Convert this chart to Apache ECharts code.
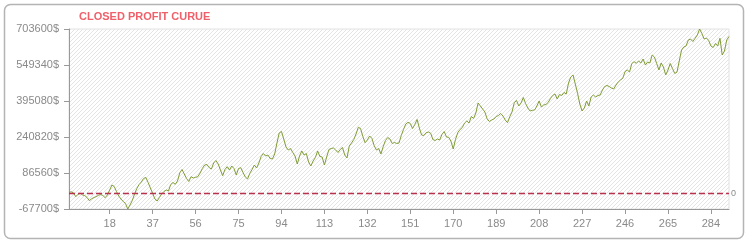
<!DOCTYPE html>
<html>
<head>
<meta charset="utf-8">
<script src="https://cdn.jsdelivr.net/npm/echarts@6/dist/echarts.min.js"></script>
<style>
  html, body { margin: 0; padding: 0; background: #fff; }
  #chart { width: 748px; height: 244px; }
</style>
</head>
<body>
<div id="chart"></div>
<script>
// Closed profit per trade number (index = trade number)
const profit = [
  3000, 6400, 900, -15000, -4700, -400, -7700, -10700, -18400, -32100,
  -24000, -18400, -15000, -9000, -5600, -9900, -19300, -7700, 13700, 35100,
  28700, 7300, -12000, -24900, -35600, -44100, -67700, -50600, -31300, -3400,
  20100, 37300, 48000, 63000, 67300, 45900, 22300, -400, -24900, -33400,
  -18400, -3400, 7300, 13700, 9400, 37300, 45900, 38100, 52300, 86600,
  101600, 82300, 63000, 50100, 70700, 65100, 68100, 70700, 86600, 105800,
  120800, 123000, 110100, 103700, 129400, 140100, 125100, 99400, 75000, 101600,
  113600, 99400, 116600, 105800, 78000, 105800, 109300, 88700, 69400, 60900,
  85300, 101600, 120800, 108000, 129400, 157300, 170100, 159400, 163700, 148700,
  146600, 168000, 215100, 258000, 264400, 232300, 198000, 185100, 191500, 174400,
  159400, 125100, 159400, 180800, 163700, 170100, 133700, 116600, 138000, 153000,
  180800, 157300, 155100, 120800, 155100, 187300, 191500, 193700, 185100, 174400,
  187300, 195800, 163700, 150800, 202300, 215100, 230100, 253700, 282400, 277200,
  243000, 216400, 228000, 245100, 235300, 204400, 185100, 191500, 168000, 199300,
  225800, 238700, 232300, 213000, 217300, 213000, 215100, 247300, 273000, 296500,
  303800, 298700, 277200, 294400, 315800, 279400, 249400, 247300, 259300, 262200,
  257100, 230100, 225800, 232300, 228000, 251500, 264400, 240800, 239500, 222400,
  189400, 231000, 259300, 273000, 281500, 300800, 309400, 300800, 328700, 320100,
  343700, 386500, 373700, 360800, 347900, 318000, 307200, 313700, 318000, 328700,
  332900, 341500, 330800, 313700, 302100, 327800, 347900, 387800, 397200, 373700,
  386500, 410100, 384400, 365100, 352200, 355200, 356500, 373700, 395100, 369400,
  377900, 380100, 388700, 405800, 418600, 425100, 403700, 422900, 418600, 431500,
  425100, 472200, 497900, 506500, 467900, 428100, 382200, 352200, 365100, 395100,
  373700, 412200, 420800, 412200, 418600, 420800, 442200, 457200, 461500, 457200,
  450800, 446500, 463600, 476500, 485100, 492400, 520600, 527900, 519300, 555800,
  563500, 556600, 566500, 557900, 575100, 549300, 562200, 557900, 592200, 583600,
  555800, 527900, 557900, 540800, 506500, 527900, 555800, 534300, 512900, 519300,
  566500, 613600, 626500, 630800, 656500, 660800, 650000, 663800, 677900, 703600,
  684300, 660800, 665000, 654300, 630800, 624300, 641500, 630800, 663800, 592200,
  609300, 656500, 671500
];
const categories = profit.map((_, i) => String(i));
const xTickLabels = ['18', '37', '56', '75', '94', '113', '132', '151', '170', '189', '208', '227', '246', '265', '284'];
const yTickLabels = [-67700, 86560, 240820, 395080, 549340, 703600];
const yMin = -67700;
const yMax = 703600;
const titleText = 'CLOSED PROFIT CURUE';
const zeroLevel = 0;

// diagonal hatch pattern for the plot background
const pat = document.createElement('canvas');
pat.width = 8; pat.height = 8;
const pctx = pat.getContext('2d');
pctx.fillStyle = '#ffffff';
pctx.fillRect(0, 0, 8, 8);
pctx.strokeStyle = '#e4e4e4';
pctx.lineWidth = 1;
for (let k = -8; k <= 8; k += 4) {
  pctx.beginPath();
  pctx.moveTo(k, 8);
  pctx.lineTo(k + 8, 0);
  pctx.stroke();
}

const chart = echarts.init(document.getElementById('chart'), null, { renderer: 'canvas' });
const font = 'Liberation Sans';
chart.setOption({
  animation: false,
  backgroundColor: '#ffffff',
  title: {
    text: titleText,
    left: 79,
    top: 11,
    padding: 0,
    textStyle: { fontFamily: font, fontSize: 11, fontWeight: 'bold', color: '#f0606a' }
  },
  graphic: [{
    type: 'rect',
    shape: { x: 4.5, y: 4.5, width: 739, height: 234, r: 6 },
    style: { fill: 'none', stroke: '#b4b4b4', lineWidth: 1.5 },
    silent: true,
    z: -1
  }],
  grid: {
    left: 69, top: 29, right: 19, bottom: 35,
    show: true,
    backgroundColor: { image: pat, repeat: 'repeat' },
    borderColor: '#e2e2e2',
    borderWidth: 1
  },
  xAxis: {
    type: 'category',
    data: categories,
    boundaryGap: false,
    axisLine: { onZero: false, lineStyle: { color: '#999999', width: 1 } },
    axisTick: {
      show: true, length: 5, lineStyle: { color: '#999999' },
      interval: (i, v) => xTickLabels.includes(v)
    },
    axisLabel: {
      interval: (i, v) => xTickLabels.includes(v),
      color: '#8a8a8a', fontFamily: font, fontSize: 11, margin: 9
    },
    splitLine: { show: false }
  },
  yAxis: {
    type: 'value',
    min: yMin,
    max: yMax,
    axisLine: { show: true, lineStyle: { color: '#999999', width: 1 } },
    axisTick: { show: true, length: 5, lineStyle: { color: '#999999' }, customValues: yTickLabels },
    axisLabel: {
      customValues: yTickLabels,
      formatter: v => v + '$',
      color: '#8a8a8a', fontFamily: font, fontSize: 11, margin: 10
    },
    splitLine: { show: false }
  },
  series: [{
    type: 'line',
    data: profit,
    symbol: 'none',
    z: 3,
    lineStyle: { color: '#7f9c36', width: 1 },
    markLine: {
      silent: true,
      symbol: ['none', 'none'],
      precision: 0,
      lineStyle: { type: [6, 3], color: '#b8324e', width: 1.3, opacity: 1 },
      emphasis: { disabled: true },
      label: { show: true, position: 'end', formatter: '0', color: '#8a8a8a', fontFamily: font, fontSize: 9, distance: 2 },
      data: [{ yAxis: zeroLevel, lineStyle: { type: [6, 3], color: '#b8324e', width: 1.3 } }]
    }
  }]
});
</script>
</body>
</html>
